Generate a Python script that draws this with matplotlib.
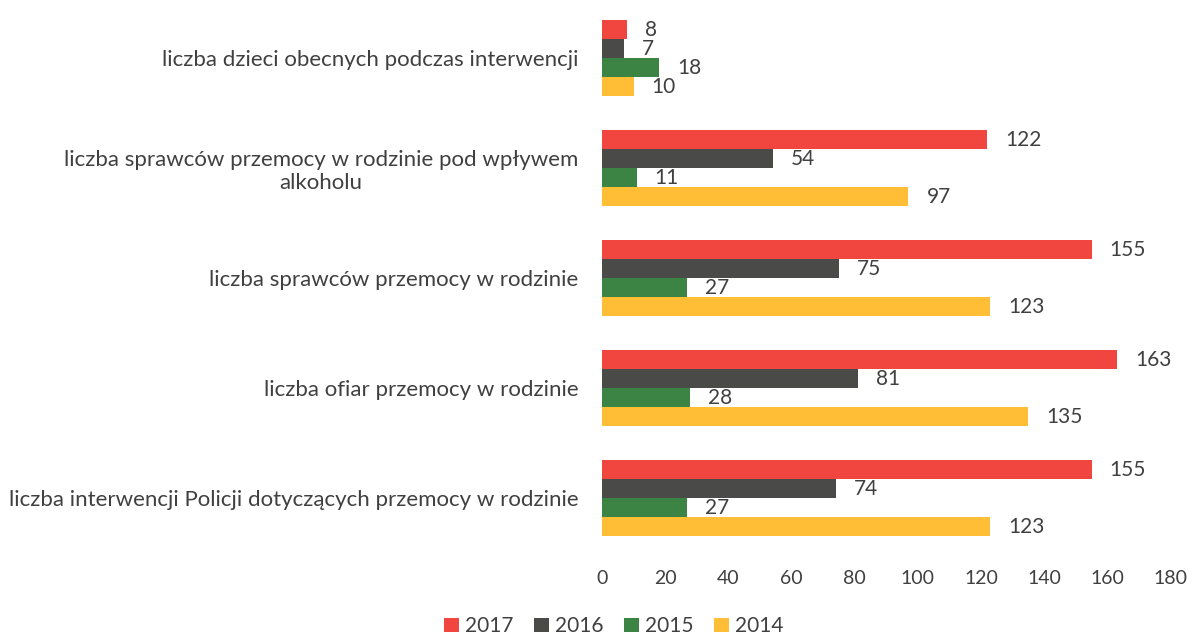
import matplotlib
matplotlib.use("Agg")
import matplotlib.pyplot as plt
import numpy as np

plt.rcParams['font.family'] = ['Lato', 'DejaVu Sans']

# categories listed bottom -> top
categories = [
    "liczba interwencji Policji dotyczących przemocy w rodzinie",
    "liczba ofiar przemocy w rodzinie",
    "liczba sprawców przemocy w rodzinie",
    "liczba sprawców przemocy w rodzinie pod wpływem\nalkoholu",
    "liczba dzieci obecnych podczas interwencji",
]
years = ["2017", "2016", "2015", "2014"]
v2017 = [155, 163, 155, 122, 8]
v2016 = [74, 81, 75, 54, 7]
v2015 = [27, 28, 27, 11, 18]
v2014 = [123, 135, 123, 97, 10]
series = [v2017, v2016, v2015, v2014]
colors = ["#F0463F", "#4A4A48", "#3C8443", "#FFBE36"]

fig = plt.figure(figsize=(11.92, 6.41), dpi=100)
ax = fig.add_axes([0.505, 0.137, 0.477, 0.858])

h = 0.173
y = np.arange(len(categories))
offsets = [1.5 * h, 0.5 * h, -0.5 * h, -1.5 * h]
for vals, off, col, lab in zip(series, offsets, colors, years):
    bars = ax.barh(y + off, vals, height=h, color=col, label=lab)
    for b, v in zip(bars, vals):
        ax.annotate(str(v), (b.get_width(), b.get_y() + h / 2),
                    xytext=(13, 0), textcoords="offset points",
                    va="center", ha="left", fontsize=15, color="#404040")

ax.set_xlim(0, 180)
ax.set_xticks(range(0, 181, 20))
ax.set_ylim(-0.5, 4.5)
ax.set_yticks(y)
ax.set_yticklabels(categories, fontsize=16, color="#404040", ha="right",
                   multialignment="center")
ax.tick_params(axis="y", length=0, pad=17)
ax.tick_params(axis="x", length=0, labelsize=14, labelcolor="#404040", pad=12)
for s in ax.spines.values():
    s.set_visible(False)

fig.legend(loc="lower center", bbox_to_anchor=(0.515, -0.022), ncol=4,
           frameon=False, fontsize=15, handlelength=0.7, handleheight=0.7,
           handletextpad=0.3, columnspacing=1.0, labelcolor="#404040")

fig.savefig("out.png", dpi=100)
